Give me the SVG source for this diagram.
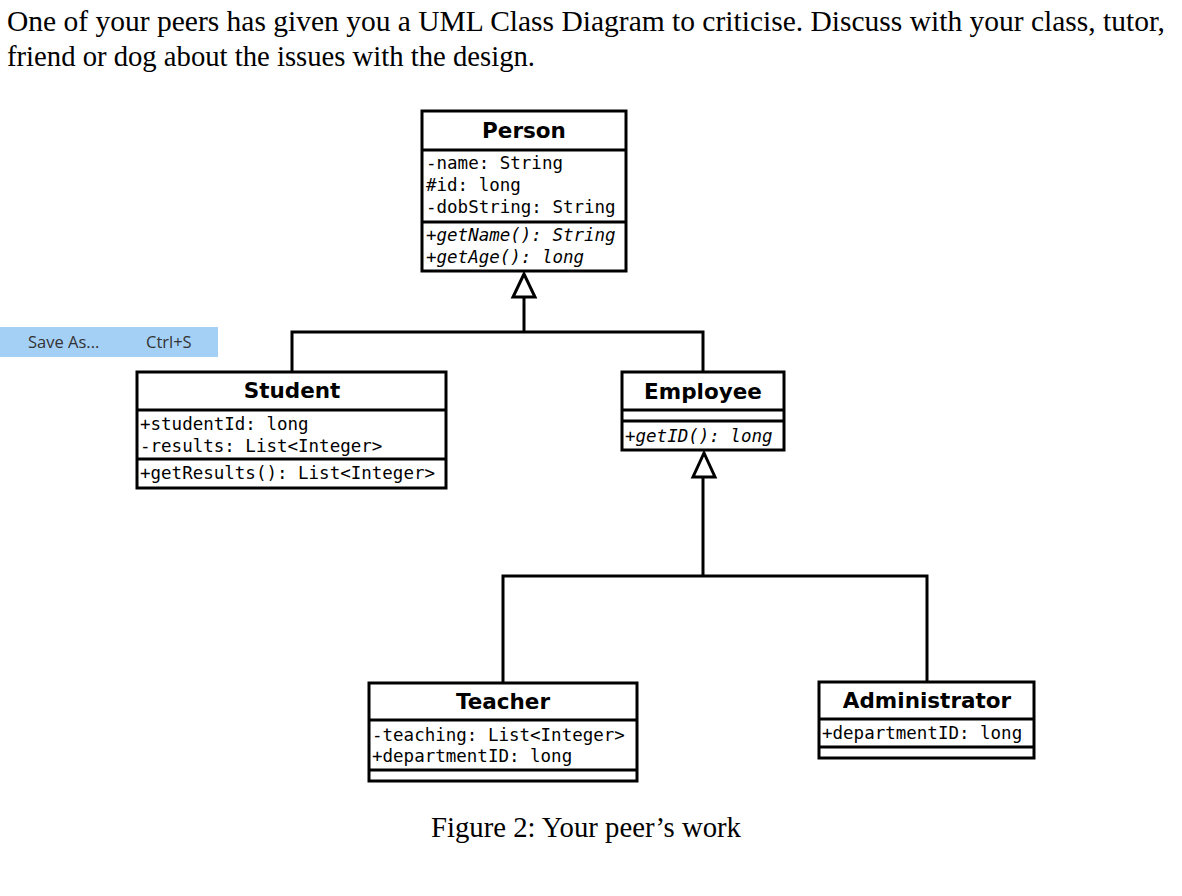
<svg xmlns="http://www.w3.org/2000/svg" width="1182" height="896" viewBox="0 0 1182 896">
<style>
.box{fill:#fff;stroke:#000;stroke-width:3}
.div{stroke:#000;stroke-width:3}
.title{font-family:"DejaVu Sans",sans-serif;font-weight:bold;font-size:21.5px;text-anchor:middle;fill:#000}
.mono{font-family:"DejaVu Sans Mono",monospace;font-size:17.5px;fill:#000}
.it{font-style:italic}
.conn{fill:none;stroke:#000;stroke-width:3}
.tri{fill:#fff;stroke:#000;stroke-width:3;stroke-linejoin:miter}
.serif{font-family:"Liberation Serif",serif;font-size:28.7px;fill:#000}
.menu{font-family:"Open Sans","Noto Sans",sans-serif;font-size:16.5px;fill:#333}
</style>
<rect width="1182" height="896" fill="#fff"/>
<text class="serif" x="7" y="31" textLength="1158" lengthAdjust="spacingAndGlyphs">One of your peers has given you a UML Class Diagram to criticise.  Discuss with your class, tutor,</text>
<text class="serif" x="7" y="66" textLength="528" lengthAdjust="spacingAndGlyphs">friend or dog about the issues with the design.</text>

<g id="connectors">
<polyline class="conn" points="524,297 524,332"/>
<polyline class="conn" points="292,372 292,332 703,332 703,372"/>
<polygon class="tri" points="524,274 513,297 535,297"/>
<polyline class="conn" points="703,477 703,576"/>
<polyline class="conn" points="503,683 503,576 927,576 927,682"/>
<polygon class="tri" points="704,453 693,477 715,477"/>
</g>

<g id="person">
<rect class="box" x="422" y="111" width="204" height="160"/>
<line class="div" x1="422" y1="150" x2="626" y2="150"/>
<line class="div" x1="422" y1="222" x2="626" y2="222"/>
<text class="title" x="524" y="138">Person</text>
<text class="mono" x="426" y="169">-name: String</text>
<text class="mono" x="426" y="191">#id: long</text>
<text class="mono" x="426" y="213">-dobString: String</text>
<text class="mono it" x="426" y="241">+getName(): String</text>
<text class="mono it" x="426" y="263">+getAge(): long</text>
</g>

<g id="student">
<rect class="box" x="137" y="372" width="309" height="116"/>
<line class="div" x1="137" y1="410" x2="446" y2="410"/>
<line class="div" x1="137" y1="459" x2="446" y2="459"/>
<text class="title" x="292" y="398">Student</text>
<text class="mono" x="140" y="430">+studentId: long</text>
<text class="mono" x="140" y="452">-results: List&lt;Integer&gt;</text>
<text class="mono" x="140" y="479">+getResults(): List&lt;Integer&gt;</text>
</g>

<g id="employee">
<rect class="box" x="622" y="372" width="162" height="78"/>
<line class="div" x1="622" y1="410" x2="784" y2="410"/>
<line class="div" x1="622" y1="421" x2="784" y2="421"/>
<text class="title" x="703" y="399">Employee</text>
<text class="mono it" x="625" y="442">+getID(): long</text>
</g>

<g id="teacher">
<rect class="box" x="369" y="683" width="268" height="98"/>
<line class="div" x1="369" y1="720" x2="637" y2="720"/>
<line class="div" x1="369" y1="770" x2="637" y2="770"/>
<text class="title" x="503" y="709">Teacher</text>
<text class="mono" x="372" y="741">-teaching: List&lt;Integer&gt;</text>
<text class="mono" x="372" y="762">+departmentID: long</text>
</g>

<g id="administrator">
<rect class="box" x="819" y="682" width="215" height="76"/>
<line class="div" x1="819" y1="719" x2="1034" y2="719"/>
<line class="div" x1="819" y1="747" x2="1034" y2="747"/>
<text class="title" x="927" y="708">Administrator</text>
<text class="mono" x="822" y="739">+departmentID: long</text>
</g>

<text class="serif" x="431" y="837" textLength="310" lengthAdjust="spacingAndGlyphs">Figure 2: Your peer’s work</text>

<g id="menu">
<rect x="0" y="327" width="218" height="30" fill="#a5d0f6"/>
<text class="menu" x="28" y="348">Save As...</text>
<text class="menu" x="146" y="348">Ctrl+S</text>
</g>
</svg>
